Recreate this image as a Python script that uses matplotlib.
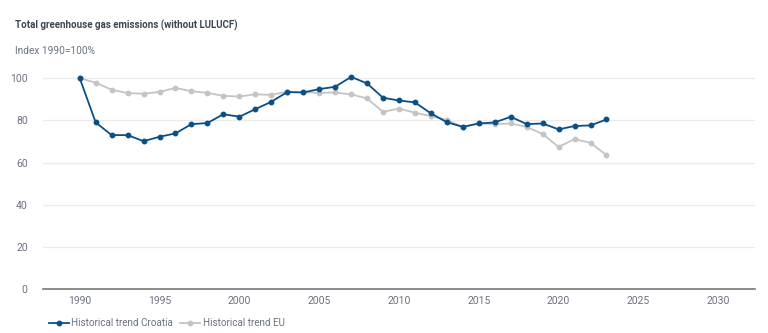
import matplotlib
matplotlib.use("Agg")
import matplotlib.pyplot as plt

plt.rcParams['font.family'] = ['Roboto', 'DejaVu Sans']

# Index 1990 = 100%
years = list(range(1990, 2024))
croatia = [100, 79.0, 73.0, 73.0, 70.1, 72.2, 73.8, 78.2, 78.7, 82.9,
           81.7, 85.3, 88.8, 93.4, 93.2, 94.8, 95.9, 100.6, 97.5, 90.7,
           89.4, 88.5, 83.3, 79.1, 76.9, 78.5, 79.0, 81.7, 78.2, 78.5,
           75.7, 77.3, 77.6, 80.4]
eu = [100, 97.8, 94.5, 92.9, 92.6, 93.5, 95.4, 93.8, 93.0, 91.6,
      91.3, 92.3, 92.1, 93.6, 93.4, 93.0, 93.2, 92.3, 90.4, 84.0,
      85.6, 83.6, 82.0, 80.1, 76.9, 78.5, 78.2, 78.5, 76.9, 73.5,
      67.4, 71.1, 69.3, 63.5]
x_ticks = [1990, 1995, 2000, 2005, 2010, 2015, 2020, 2025, 2030]
y_ticks = [0, 20, 40, 60, 80, 100]

BLUE = '#0b4f87'
GREY = '#c4c4c4'
TEXT = '#6b7280'

fig = plt.figure(figsize=(7.68, 3.33), dpi=100)
ax = fig.add_axes([0.056, 0.132, 0.927, 0.665])

ax.plot(years, eu, color=GREY, lw=1.3, marker='o', ms=3.2, label='Historical trend EU', zorder=3)
ax.plot(years, croatia, color=BLUE, lw=1.3, marker='o', ms=3.2, label='Historical trend Croatia', zorder=4)

ax.set_xlim(1987.7, 2032.3)
ax.set_ylim(0, 105)
ax.set_xticks(x_ticks)
ax.set_yticks(y_ticks)
ax.grid(axis='y', color='#ebebeb', lw=0.9)
ax.set_axisbelow(True)
for s in ['top', 'right', 'left']:
    ax.spines[s].set_visible(False)
ax.spines['bottom'].set_color('#777777')
ax.spines['bottom'].set_linewidth(1.2)
ax.tick_params(axis='both', length=0, labelsize=7.5, colors=TEXT)
ax.tick_params(axis='y', pad=11)
ax.tick_params(axis='x', pad=5)

fig.text(0.02, 0.925, 'Total greenhouse gas emissions (without LULUCF)',
         fontsize=7.0, fontweight='bold', color='#3c4654', va='center')
fig.text(0.02, 0.847, 'Index 1990=100%', fontsize=7.3, color=TEXT, va='center')

h, l = ax.get_legend_handles_labels()
leg = fig.legend(h[::-1], l[::-1], loc='center left', bbox_to_anchor=(0.052, 0.03),
                 ncol=2, frameon=False, fontsize=7.1, handlelength=2.0,
                 columnspacing=0.7, handletextpad=0.3)
for t in leg.get_texts():
    t.set_color(TEXT)

fig.savefig('out.png', dpi=100)
